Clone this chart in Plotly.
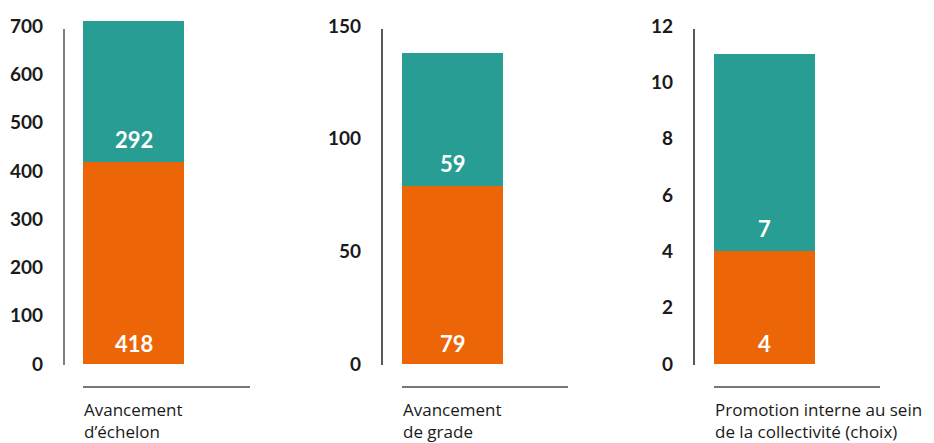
import plotly.graph_objects as go

# Data
categories = [
    "Avancement<br>d’échelon",
    "Avancement<br>de grade",
    "Promotion interne au sein<br>de la collectivité (choix)",
]
orange_values = [418, 79, 4]
teal_values = [292, 59, 7]
tick_values = [
    [0, 100, 200, 300, 400, 500, 600, 700],
    [0, 50, 100, 150],
    [0, 2, 4, 6, 8, 10, 12],
]

ORANGE = "#EC6608"
TEAL = "#289D93"
W, H = 934, 443
FONT = "Lato"
LABEL_FONT = "Open Sans"

# Panel geometry in pixels
axis_x = [64, 382, 694]       # vertical axis line
bar_left = [83, 402, 714]     # bar left edge
panel_end = [250, 568, 880]   # end of baseline rule
bar_px = 101
y_zero_px, y_tick_top_px, y_dom_top_px = 364, 26, 15

fig = go.Figure()

def px_x(p):
    return p / W

def px_y(p):
    return 1 - p / H

for i in range(3):
    n = "" if i == 0 else str(i + 1)
    xa, ya = "x" + n, "y" + n
    fig.add_trace(go.Bar(x=[0], y=[orange_values[i]], width=[1], marker=dict(color=ORANGE, line_width=0),
                         xaxis=xa, yaxis=ya, showlegend=False, hoverinfo="y"))
    fig.add_trace(go.Bar(x=[0], y=[teal_values[i]], width=[1], marker=dict(color=TEAL, line_width=0),
                         xaxis=xa, yaxis=ya, showlegend=False, hoverinfo="y"))

    center = bar_left[i] + bar_px / 2
    r0 = -(center - axis_x[i]) / bar_px
    r1 = r0 + (panel_end[i] - axis_x[i]) / bar_px
    tmax = tick_values[i][-1]
    ytop = tmax * (y_zero_px - y_dom_top_px) / (y_zero_px - y_tick_top_px)

    fig.layout["xaxis" + n] = dict(domain=[px_x(axis_x[i]), px_x(panel_end[i])], range=[r0, r1],
                                   visible=False, anchor=ya, fixedrange=True)
    fig.layout["yaxis" + n] = dict(domain=[px_y(y_zero_px), px_y(y_dom_top_px)], range=[0, ytop],
                                   anchor=xa, tickvals=tick_values[i], showgrid=False, zeroline=False,
                                   showline=False, ticks="", ticklabelstandoff=20,
                                   tickfont=dict(family=FONT, size=19, color="#1a1a1a", weight="bold"),
                                   fixedrange=True)

    # vertical axis rule
    fig.add_shape(type="line", xref="paper", yref="paper",
                  x0=px_x(axis_x[i]), x1=px_x(axis_x[i]), y0=px_y(365), y1=px_y(29),
                  line=dict(color="#555555" if i == 0 else "#222222", width=1.5))
    # baseline rule under the bar
    fig.add_shape(type="line", xref="paper", yref="paper",
                  x0=px_x(bar_left[i]), x1=px_x(panel_end[i]), y0=px_y(387), y1=px_y(387),
                  line=dict(color="#777777", width=2))
    # two-line category label
    fig.add_annotation(xref="paper", yref="paper", x=px_x(bar_left[i] - 1), y=px_y(396),
                       xanchor="left", yanchor="top", align="left", showarrow=False,
                       text=categories[i], font=dict(family=LABEL_FONT, size=17, color="#1a1a1a"))
    # value labels inside each segment, near its base
    fig.add_annotation(xref=xa, yref=ya, x=0, y=0, yanchor="bottom", yshift=5, showarrow=False,
                       text=str(orange_values[i]),
                       font=dict(family=FONT, size=22, color="white", weight="bold"))
    fig.add_annotation(xref=xa, yref=ya, x=0, y=orange_values[i], yanchor="bottom", yshift=7,
                       showarrow=False, text=str(teal_values[i]),
                       font=dict(family=FONT, size=22, color="white", weight="bold"))

fig.update_layout(
    barmode="stack",
    width=W, height=H,
    margin=dict(l=0, r=0, t=0, b=0, autoexpand=False),
    paper_bgcolor="white", plot_bgcolor="white",
    showlegend=False,
)

fig.write_html("out.html", config={"displayModeBar": False})
